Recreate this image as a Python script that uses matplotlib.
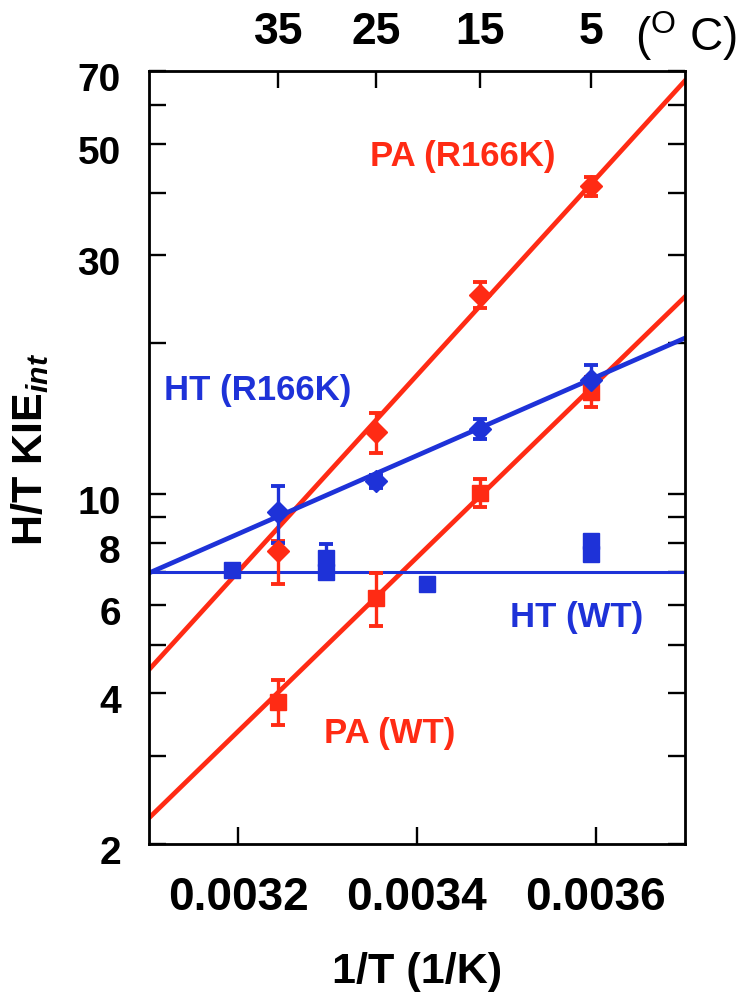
import matplotlib
matplotlib.use('Agg')
import matplotlib.pyplot as plt
import matplotlib.ticker as ticker
import matplotlib.transforms as mtransforms
import numpy as np

plt.rcParams['font.family'] = ['Liberation Sans', 'DejaVu Sans']
plt.rcParams['mathtext.fontset'] = 'custom'
plt.rcParams['mathtext.rm'] = 'Liberation Sans'
plt.rcParams['mathtext.it'] = 'Liberation Sans:italic:bold'
plt.rcParams['mathtext.bf'] = 'Liberation Sans:bold'

RED = '#ff2b14'
BLUE = '#1e32d8'

# measured points (temperature in deg C, intrinsic H/T KIE)
pa_r166k_temp = [35, 25, 15, 5]
pa_r166k_kie = [7.7, 13.3, 25.0, 41.2]
pa_r166k_err_lo = [1.1, 1.2, 1.5, 1.8]
pa_r166k_err_hi = [0.35, 1.2, 1.5, 1.8]

pa_wt_temp = [35, 25, 15, 5]
pa_wt_kie = [3.85, 6.2, 10.06, 16.0]
pa_wt_err = [0.4, 0.75, 0.65, 1.1]

ht_r166k_temp = [35, 25, 15, 5]
ht_r166k_kie = [9.2, 10.6, 13.5, 16.9]
ht_r166k_err = [1.2, 0.3, 0.6, 1.2]

ht_wt_temp = [40, 30, 30, 20, 5, 5]
ht_wt_kie = [7.05, 7.46, 7.0, 6.6, 8.06, 7.6]
ht_wt_err = [0.1, 0.5, 0.1, 0.1, 0.15, 0.15]

# fitted lines, ends at the plot edges
fit_x = [0.0031, 0.0037]
pa_r166k_fit = [4.45, 67.0]
pa_wt_fit = [2.25, 24.8]
ht_r166k_fit = [6.95, 20.5]
ht_wt_fit = [7.0, 7.0]

ytick_major = [2, 4, 6, 8, 10, 30, 50, 70]
ytick_minor = [3, 5, 7, 9, 20, 40, 60]
xtick_vals = [0.0032, 0.0034, 0.0036]
xtick_labels = ['0.0032', '0.0034', '0.0036']
top_temps = [35, 25, 15, 5]


def inv_t(temps):
    return 1.0 / (np.asarray(temps, dtype=float) + 273.15)


fig = plt.figure(figsize=(7.51, 10.07), dpi=100)
ax = fig.add_axes([0.1979, 0.1619, 0.7144, 0.7676])

ax.plot(fit_x, pa_r166k_fit, color=RED, lw=3.4, zorder=2)
ax.plot(fit_x, pa_wt_fit, color=RED, lw=3.4, zorder=2)
ax.plot(fit_x, ht_r166k_fit, color=BLUE, lw=3.4, zorder=2)
ax.plot(fit_x, ht_wt_fit, color=BLUE, lw=2.2, zorder=2)

eb = dict(linestyle='none', elinewidth=2.4, capsize=4.8, capthick=2.8, zorder=3)
ax.errorbar(inv_t(pa_r166k_temp), pa_r166k_kie,
            yerr=[pa_r166k_err_lo, pa_r166k_err_hi],
            marker='D', ms=11, color=RED, **eb)
ax.errorbar(inv_t(pa_wt_temp), pa_wt_kie, yerr=pa_wt_err,
            marker='s', ms=12, color=RED, **eb)
ax.errorbar(inv_t(ht_r166k_temp), ht_r166k_kie, yerr=ht_r166k_err,
            marker='D', ms=11, color=BLUE, **eb)
ax.errorbar(inv_t(ht_wt_temp), ht_wt_kie, yerr=ht_wt_err,
            marker='s', ms=12, color=BLUE, **eb)

ax.set_yscale('log')
ax.set_xlim(0.0031, 0.0037)
ax.set_ylim(2, 70)

ax.yaxis.set_major_locator(ticker.FixedLocator(ytick_major))
ax.yaxis.set_major_formatter(ticker.FixedFormatter([str(v) for v in ytick_major]))
ax.yaxis.set_minor_locator(ticker.FixedLocator(ytick_minor))
ax.yaxis.set_minor_formatter(ticker.NullFormatter())
ax.xaxis.set_major_locator(ticker.FixedLocator(xtick_vals))
ax.xaxis.set_major_formatter(ticker.FixedFormatter(xtick_labels))
ax.xaxis.set_minor_locator(ticker.NullLocator())

ax.tick_params(axis='both', which='both', direction='in', length=12,
               width=1.7, right=True, top=False)
ax.tick_params(axis='x', labelsize=33, pad=23)
ax.tick_params(axis='y', labelsize=28, pad=20)
for lbl in ax.get_xticklabels() + ax.get_yticklabels():
    lbl.set_fontweight('bold')
shift = mtransforms.ScaledTranslation(0, -6 / 100, fig.dpi_scale_trans)
for lbl in ax.get_yticklabels():
    lbl.set_transform(lbl.get_transform() + shift)

for sp in ax.spines.values():
    sp.set_linewidth(2.0)

ax2 = ax.twiny()
ax2.set_xlim(ax.get_xlim())
ax2.set_xticks(inv_t(top_temps))
ax2.set_xticklabels([str(t) for t in top_temps])
ax2.tick_params(axis='x', direction='in', length=12, width=1.7,
                labelsize=32, pad=13)
for lbl in ax2.get_xticklabels():
    lbl.set_fontweight('bold')
ax.text(0.907, 1.026, r'($^{\mathrm{O}}$ C)', transform=ax.transAxes,
        fontsize=33, ha='left', va='baseline')

ax.set_xlabel('1/T (1/K)', fontsize=31, fontweight='bold')
ax.xaxis.set_label_coords(0.5, -0.166)
ax.xaxis.label.set_verticalalignment('center')
ax.set_ylabel(r'H/T KIE$_{int}$', fontsize=31, fontweight='bold')
ax.yaxis.set_label_coords(-0.22, 0.51)
ax.yaxis.label.set_verticalalignment('center')

lab = dict(fontsize=25, fontweight='bold', ha='center', va='center')
ax.text(0.0034513, 47.2, 'PA (R166K)', color=RED, **lab)
ax.text(0.0032222, 16.1, 'HT (R166K)', color=BLUE, **lab)
ax.text(0.0035787, 5.66, 'HT (WT)', color=BLUE, **lab)
ax.text(0.0033697, 3.32, 'PA (WT)', color=RED, **lab)

fig.savefig('out.png', dpi=100)
